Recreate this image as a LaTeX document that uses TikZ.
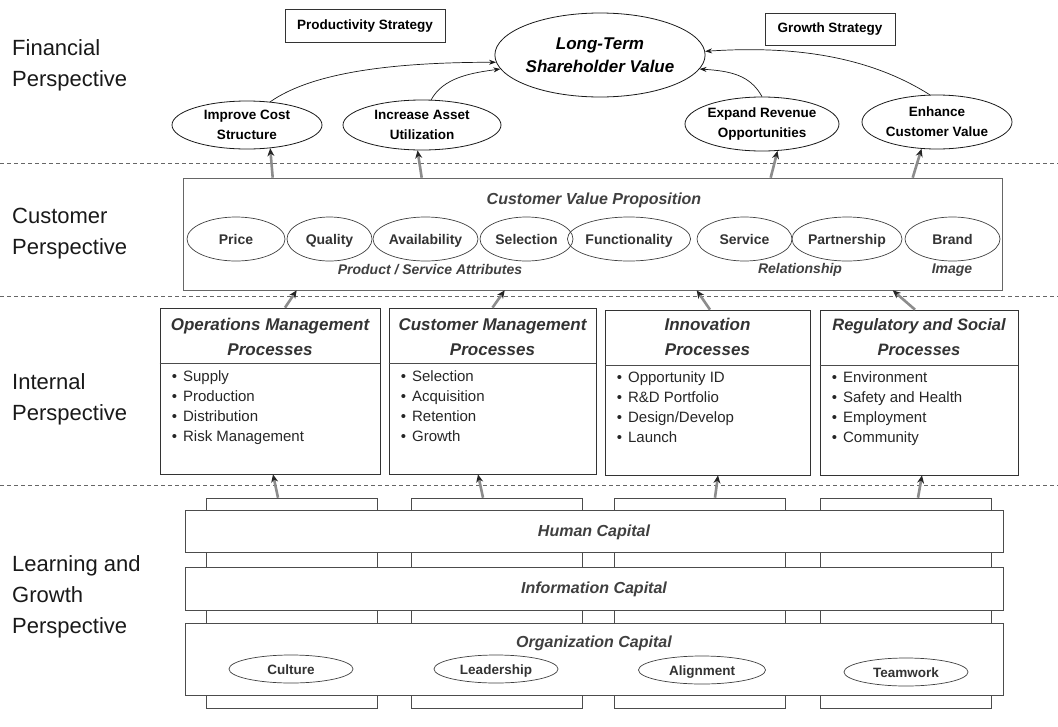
\documentclass[tikz,border=0pt]{standalone}
\usepackage{fontspec}
\setmainfont{Liberation Sans}
\usetikzlibrary{shapes.geometric,arrows.meta,calc}
\begin{document}
\begin{tikzpicture}[x=1pt,y=-1pt,
  persp/.style={anchor=west, align=left, inner sep=0, font=\fontsize{22}{31}\selectfont, text=black!90},
  finell/.style={ellipse, draw=black!90, line width=0.8pt, inner sep=0, align=center, font=\fontsize{13.5}{20}\selectfont\bfseries},
  attr/.style={ellipse, draw=black!75, line width=0.7pt, inner sep=0, minimum height=44pt, text height=10pt, text depth=0pt, font=\fontsize{14}{16}\selectfont\bfseries, text=black!80},
  lgell/.style={ellipse, draw=black!75, line width=0.7pt, inner sep=0, minimum height=28pt, minimum width=124pt, text height=10pt, text depth=0pt, font=\fontsize{13.5}{16}\selectfont\bfseries, text=black!80},
  stratbox/.style={draw=black!80, line width=0.6pt, inner sep=0, font=\fontsize{13.5}{15}\selectfont\bfseries},
  sepline/.style={draw=black!60, line width=0.6pt, dash pattern=on 4pt off 3pt},
  uparrow/.style={draw=black!45, line width=2.6pt, -{Stealth[color=black!85,length=8pt,width=7pt]}},
  thinarrow/.style={draw=black!90, line width=0.7pt, -{Stealth[length=7pt,width=5pt]}},
  procbox/.style={draw=black!80, line width=0.7pt, inner sep=0},
  prochead/.style={align=center, inner sep=0, font=\fontsize{17}{25}\selectfont\bfseries\itshape, text=black!80},
  items/.style={anchor=north west, align=left, inner sep=0, font=\fontsize{15}{20}\selectfont, text=black!85},
  ital/.style={inner sep=0, font=\fontsize{16}{18}\selectfont\bfseries\itshape, text=black!75},
  sub/.style={inner sep=0, font=\fontsize{14}{16}\selectfont\bfseries\itshape, text=black!75},
  tab/.style={draw=black!70, line width=0.6pt, inner sep=0, minimum height=210pt, minimum width=171pt},
  bar/.style={draw=black!70, line width=0.6pt, fill=white, inner sep=0, minimum width=818pt}
]
\useasboundingbox (0,0) rectangle (1058,726);

% separators
\draw[sepline] (0,163) -- (1058,163);
\draw[sepline] (0,296) -- (1058,296);
\draw[sepline] (0,485) -- (1058,485);

% perspective labels
\node[persp] (lfin) at (12,65) {Financial\\Perspective};
\node[persp] (lcus) at (12,234) {Customer\\Perspective};
\node[persp] (lint) at (12,399) {Internal\\Perspective};
\node[persp] (llg) at (12,597) {Learning and\\Growth\\Perspective};

% financial
\node[stratbox, minimum width=160pt, minimum height=33pt] (prod) at (365,26) {Productivity Strategy};
\node[stratbox, minimum width=130pt, minimum height=32pt] (grow) at (830,29) {Growth Strategy};
\node[finell, minimum width=200pt, minimum height=84pt, font=\fontsize{17}{23}\selectfont\bfseries\itshape] (ltsv) at (600,55) {Long-Term\\Shareholder Value};
\node[finell, minimum width=150pt, minimum height=48pt] (ics) at (247,125) {Improve Cost\\Structure};
\node[finell, minimum width=158pt, minimum height=50pt] (iau) at (422,125) {Increase Asset\\Utilization};
\node[finell, minimum width=154pt, minimum height=54pt] (ero) at (762,124) {Expand Revenue\\Opportunities};
\node[finell, minimum width=150pt, minimum height=54pt] (ecv) at (937,122) {Enhance\\Customer Value};

\draw[thinarrow] (ics.45) .. controls +(40,-28) and +(-110,0) .. (ltsv.184);
\draw[thinarrow] (iau.70) .. controls +(12,-22) and +(-30,4) .. (ltsv.188);
\draw[thinarrow] (ero.north) .. controls +(-12,-22) and +(30,2) .. (ltsv.352);
\draw[thinarrow] (ecv.105) .. controls +(-60,-38) and +(90,-6) .. (ltsv.2);

% customer
\node[draw=black!60, line width=0.6pt, inner sep=0, minimum width=819pt, minimum height=112pt] (cvp) at (592.5,234) {};
\node[ital] (cvpt) at (594,200) {Customer Value Proposition};
\node[attr, minimum width=98pt] (price) at (236,239) {Price};
\node[attr, minimum width=85pt] (qual) at (329.5,239) {Quality};
\node[attr, minimum width=105pt] (avail) at (425.5,239) {Availability};
\node[attr, minimum width=93pt] (sel) at (526.5,239) {Selection};
\node[attr, minimum width=108pt] (func) at (629,239) {Functionality};
\node[attr, minimum width=95pt] (serv) at (744.5,239) {Service};
\node[attr, minimum width=100pt] (part) at (847,239) {Partnership};
\node[attr, minimum width=95pt] (brand) at (952.5,239) {Brand};
\node[sub] (psa) at (430,270) {Product / Service Attributes};
\node[sub] (rel) at (800,270) {Relationship};
\node[sub] (img) at (952,270) {Image};

\draw[uparrow] ($(cvp.north west)+(90,0)$) -- (ics.-45);
\draw[uparrow] ($(cvp.north west)+(239,0)$) -- (iau.-100);
\draw[uparrow] ($(cvp.north west)+(588,0)$) -- (ero.-60);
\draw[uparrow] ($(cvp.north west)+(730,0)$) -- (ecv.-120);

% internal
\node[procbox, minimum width=220pt, minimum height=166pt] (p1) at (270,391) {};
\node[procbox, minimum width=207pt, minimum height=166pt] (p2) at (492.5,391) {};
\node[procbox, minimum width=205pt, minimum height=165pt] (p3) at (707.5,392.5) {};
\node[procbox, minimum width=198pt, minimum height=165pt] (p4) at (919,392.5) {};
\foreach \p in {p1,p2,p3,p4}{
  \draw[draw=black!70, line width=0.6pt] ($(\p.north west)+(0,56)$) -- ($(\p.north east)+(0,56)$);
}
\node[prochead] (p1h) at ($(p1.north)+(0,29)$) {Operations Management\\Processes};
\node[prochead] (p2h) at ($(p2.north)+(0,29)$) {Customer Management\\Processes};
\node[prochead] (p3h) at ($(p3.north)+(0,27)$) {Innovation\\Processes};
\node[prochead, font=\fontsize{16.5}{25}\selectfont\bfseries\itshape] (p4h) at ($(p4.north)+(0,27)$) {Regulatory and Social\\Processes};
\node[items] (p1l) at ($(p1.north west)+(12,63)$) {\textbullet\hspace{6pt}Supply\\\textbullet\hspace{6pt}Production\\\textbullet\hspace{6pt}Distribution\\\textbullet\hspace{6pt}Risk Management};
\node[items] (p2l) at ($(p2.north west)+(12,63)$) {\textbullet\hspace{6pt}Selection\\\textbullet\hspace{6pt}Acquisition\\\textbullet\hspace{6pt}Retention\\\textbullet\hspace{6pt}Growth};
\node[items] (p3l) at ($(p3.north west)+(12,62)$) {\textbullet\hspace{6pt}Opportunity ID\\\textbullet\hspace{6pt}R\&D Portfolio\\\textbullet\hspace{6pt}Design/Develop\\\textbullet\hspace{6pt}Launch};
\node[items] (p4l) at ($(p4.north west)+(12,62)$) {\textbullet\hspace{6pt}Environment\\\textbullet\hspace{6pt}Safety and Health\\\textbullet\hspace{6pt}Employment\\\textbullet\hspace{6pt}Community};

\draw[uparrow] ($(p1.north)+(15,0)$) -- ($(cvp.south west)+(114,0)$);
\draw[uparrow] ($(p2.north)+(0,0)$) -- ($(cvp.south west)+(322,0)$);
\draw[uparrow] ($(p3.north)+(2.5,0)$) -- ($(cvp.south west)+(514,0)$);
\draw[uparrow] ($(p4.north)+(-4,0)$) -- ($(cvp.south west)+(710,0)$);

% learning and growth
\node[tab] (t1) at (291.5,603) {};
\node[tab] (t2) at (496.5,603) {};
\node[tab] (t3) at (700,603) {};
\node[tab] (t4) at (905.5,603) {};
\node[bar, minimum height=42pt] (hc) at (594,531) {};
\node[ital] (hct) at (594,532) {Human Capital};
\node[bar, minimum height=43pt] (ic) at (594,588.5) {};
\node[ital] (ict) at (594,589) {Information Capital};
\node[bar, minimum height=72pt] (oc) at (594,659) {};
\node[ital] (oct) at (594,643) {Organization Capital};
\node[lgell] (cul) at (291,669) {Culture};
\node[lgell] (lead) at (496,669) {Leadership};
\node[lgell, minimum width=127pt] (align) at (702,670) {Alignment};
\node[lgell] (team) at (906,672) {Teamwork};

\draw[uparrow] ($(t1.north)+(-13.5,0)$) -- ($(p1.south)+(3,0)$);
\draw[uparrow] ($(t2.north)+(-13.5,0)$) -- ($(p2.south)+(-14.5,0)$);
\draw[uparrow] ($(t3.north)+(15,0)$) -- ($(p3.south)+(10.5,0)$);
\draw[uparrow] ($(t4.north)+(12.5,0)$) -- ($(p4.south)+(3,0)$);
\end{tikzpicture}
\end{document}
